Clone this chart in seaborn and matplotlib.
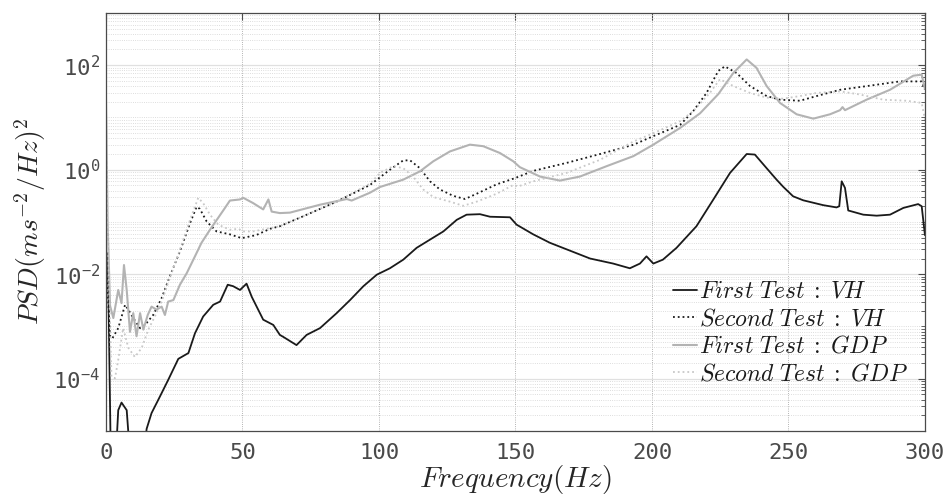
import numpy as np
import pandas as pd
import matplotlib
matplotlib.use("Agg")
import matplotlib.pyplot as plt
import matplotlib.ticker as mticker
import seaborn as sns

# ---------------- data ----------------
vh1_x = [0, 0.7, 1.8, 3.5, 4.5, 5.7, 7.6, 9.0, 13.5, 14.9, 16.7, 19.8, 22.8, 26.5, 30.2,
         32.6, 35.6, 39.3, 41.8, 44.6, 46.6, 49.1, 51.5, 53.4, 55.2, 57.6, 61.3, 63.7, 65.0,
         69.8, 73.5, 78.4, 84.5, 89.4, 94.3, 99.2, 104, 108.9, 113.8, 118.7, 123.6, 128.5,
         132.1, 137, 140.7, 148, 150.4, 156.5, 162.6, 168.7, 177.3, 185.8, 191.9, 195.6, 198,
         200.5, 204, 209, 216.3, 222.5, 228.6, 234.7, 237.7, 242, 245.6, 248.1, 251.7, 255.4,
         262.7, 267.6, 268.6, 269.5, 270.7, 271.9, 277.4, 282.3, 287.2, 292.1, 297.5, 298.8, 300]
vh1_y = [2.7e-2, 2.4e-2, 2.5e-6, 2.5e-6, 2.5e-5, 3.5e-5, 2.5e-5, 2.5e-6, 2.5e-6, 1.1e-5,
         2.2e-5, 4.6e-5, 9.5e-5, 2.4e-4, 3.1e-4, 7.4e-4, 1.55e-3, 2.6e-3, 3.0e-3, 6.3e-3,
         5.9e-3, 5.0e-3, 6.6e-3, 3.7e-3, 2.4e-3, 1.35e-3, 1.07e-3, 6.9e-4, 6.3e-4, 4.4e-4,
         6.9e-4, 9.3e-4, 1.8e-3, 3.2e-3, 5.9e-3, 9.8e-3, 1.3e-2, 1.9e-2, 3.2e-2, 4.6e-2,
         6.6e-2, 0.11, 0.138, 0.141, 0.126, 0.123, 0.089, 0.058, 0.040, 0.030, 0.020, 0.016,
         0.013, 0.016, 0.022, 0.016, 0.019, 0.032, 0.083, 0.27, 0.87, 2.0, 1.95, 1.07, 0.65,
         0.47, 0.31, 0.26, 0.21, 0.19, 0.20, 0.60, 0.45, 0.166, 0.138, 0.132, 0.138, 0.186,
         0.22, 0.20, 0.056]

vh2_x = [0, 1.5, 2.4, 4.5, 7.0, 8.2, 10, 12.5, 14.3, 17.3, 20.4, 23.4, 27.1, 30.8, 33.2,
         34.4, 36.9, 40.5, 45.4, 49.7, 55, 60.1, 63.7, 72.3, 84.5, 96.7, 104, 108.9, 111.4,
         115, 118.7, 122.3, 127.2, 131.5, 135.8, 143.1, 149.8, 156.5, 168.7, 181, 193.2,
         200.5, 210.3, 215.1, 220, 224.3, 226.7, 231, 235.9, 242, 246.9, 254.2, 260.3,
         268.9, 278.6, 290.8, 298.8, 300]
vh2_y = [2e-2, 6.3e-4, 6.0e-4, 9.3e-4, 2.6e-3, 2.1e-3, 1.45e-3, 9.3e-4, 1.07e-3, 1.66e-3,
         3.5e-3, 9.1e-3, 2.75e-2, 9.5e-2, 0.195, 0.178, 0.102, 0.066, 0.058, 0.049, 0.056,
         0.074, 0.083, 0.129, 0.245, 0.51, 1.0, 1.51, 1.51, 1.07, 0.60, 0.42, 0.316, 0.275,
         0.347, 0.525, 0.69, 0.95, 1.35, 2.0, 3.0, 4.4, 7.2, 13.2, 29.5, 78, 95, 71, 40,
         25.7, 21.9, 20.9, 25.7, 33.9, 39.8, 49, 49, 34]

gdp1_x = [0, 0.6, 1.5, 2.7, 4.5, 5.7, 6.6, 7.6, 8.8, 10, 11.2, 12.5, 13.7, 15.3, 16.7, 18.5,
          20.4, 21.6, 22.8, 24.7, 27.1, 29.6, 32.6, 35, 38.1, 41.1, 43.6, 45.4, 49.1, 50.3,
          53.9, 57.6, 59.5, 60.7, 63.7, 67.4, 78.4, 88.2, 90, 96.7, 100.4, 108.9, 115, 119.9,
          126, 133.3, 138.2, 144.3, 149.2, 151.6, 159, 166.3, 173.6, 183.4, 193.2, 200.5,
          210.3, 217.6, 224.3, 229.8, 234.7, 238.3, 242, 246.9, 253, 259.1, 265.2, 268.9,
          269.8, 270.7, 278.6, 287.2, 295.7, 298.8, 300]
gdp1_y = [25, 0.1, 2.5e-3, 1.45e-3, 5.0e-3, 2.8e-3, 1.5e-2, 5.0e-3, 7.9e-4, 1.8e-3, 6.5e-4,
          1.8e-3, 8.7e-4, 1.66e-3, 2.4e-3, 2.1e-3, 2.4e-3, 1.66e-3, 3.0e-3, 3.2e-3, 6.3e-3,
          1.05e-2, 2.2e-2, 4.0e-2, 7.1e-2, 0.12, 0.186, 0.257, 0.27, 0.29, 0.23, 0.174, 0.27,
          0.158, 0.148, 0.151, 0.214, 0.275, 0.257, 0.363, 0.468, 0.646, 0.93, 1.45, 2.24,
          3.02, 2.82, 2.09, 1.45, 1.12, 0.74, 0.62, 0.74, 1.17, 1.82, 3.02, 6.3, 12, 28, 71,
          129, 89, 40, 19, 11.5, 9.5, 11.5, 13.8, 15.8, 13.8, 21.9, 33.9, 63, 66, 35]

gdp2_x = [0, 0.8, 2.0, 3.3, 4.5, 6.3, 8.2, 10.6, 13.1, 15.5, 17.9, 20.4, 23.4, 27.1, 30.8,
          33.8, 35.6, 38.1, 41.1, 45.4, 48.5, 50.3, 53.9, 63.7, 72.3, 84.5, 96.7, 100.4, 105.2,
          108.9, 112.5, 116.2, 119.9, 126, 130.9, 135.8, 143.1, 149.2, 151, 156.5, 168.7, 181,
          193.2, 200.5, 210.3, 215.1, 221.2, 224.9, 229.8, 235.9, 242, 248.1, 254.2, 260.3,
          268.9, 276.2, 284.7, 293.3, 298.8, 300]
gdp2_y = [16, 0.03, 1.1e-4, 1.02e-4, 2.3e-4, 9.3e-4, 3.9e-4, 2.6e-4, 3.9e-4, 8.7e-4, 1.55e-3,
          3.0e-3, 8.5e-3, 2.95e-2, 0.11, 0.29, 0.23, 0.138, 0.089, 0.071, 0.074, 0.066, 0.066,
          0.083, 0.129, 0.245, 0.54, 0.87, 1.17, 1.07, 0.74, 0.42, 0.30, 0.245, 0.204, 0.245,
          0.347, 0.51, 0.48, 0.60, 0.87, 1.55, 3.47, 5.0, 8.5, 13.2, 29.5, 54, 40, 29.5, 24,
          22.9, 25.7, 29.5, 31.6, 27.5, 21.9, 20.9, 19, 9.1]

labels = [r"$First\ Test\;:\;VH$", r"$Second\ Test\;:\;VH$",
          r"$First\ Test\;:\;GDP$", r"$Second\ Test\;:\;GDP$"]
x_ticks = [0, 50, 100, 150, 200, 250, 300]
y_ticks = [1e-4, 1e-2, 1e0, 1e2]

# ---------------- style ----------------
sns.set_theme(style="white")
plt.rcParams["font.family"] = ["DejaVu Sans Mono", "DejaVu Sans"]
plt.rcParams["mathtext.fontset"] = "cm"

fig = plt.figure(figsize=(9.52, 4.99), dpi=100)
ax = fig.add_axes([0.1113, 0.1363, 0.8603, 0.8377])

series = [
    (vh1_x, vh1_y, "#1a1a1a", "-", 1.3),
    (vh2_x, vh2_y, "#1a1a1a", ":", 1.3),
    (gdp1_x, gdp1_y, "#b3b3b3", "-", 1.5),
    (gdp2_x, gdp2_y, "#c8c8c8", ":", 1.3),
]
for (xs, ys, col, ls, lw), lab in zip(series, labels):
    df = pd.DataFrame({"f": xs, "psd": ys})
    sns.lineplot(data=df, x="f", y="psd", ax=ax, color=col, linestyle=ls,
                 linewidth=lw, label=lab, estimator=None, sort=False)

ax.set_yscale("log")
ax.set_xlim(0, 300)
ax.set_ylim(1e-5, 1e3)
ax.set_xticks(x_ticks)
ax.yaxis.set_major_locator(mticker.FixedLocator(y_ticks))
ax.yaxis.set_minor_locator(mticker.LogLocator(base=10, subs=np.arange(1, 10), numticks=20))
ax.yaxis.set_minor_formatter(mticker.NullFormatter())

# grid
ax.grid(False)
ax.xaxis.grid(True, which="major", color="#9a9a9a", linestyle=":", linewidth=0.6)
ax.yaxis.grid(True, which="major", color="#e0e0e0", linestyle="-", linewidth=0.9)
ax.yaxis.grid(True, which="minor", color="#d2d2d2", linestyle=":", linewidth=0.6)
ax.set_axisbelow(True)

ax.tick_params(which="both", direction="in", top=True, right=True, colors="#4a4a4a",
               labelcolor="#4a4a4a", labelsize=16)
ax.tick_params(which="major", length=5, width=0.8)
ax.tick_params(which="minor", length=3, width=0.6)
ax.tick_params(axis="x", pad=9)
ax.tick_params(axis="y", pad=4)
for sp in ax.spines.values():
    sp.set_color("#4a4a4a")
    sp.set_linewidth(0.9)

ax.set_xlabel(r"$Frequency(Hz)$", fontsize=21, color="#262626", labelpad=0)
ax.set_ylabel(r"$PSD(ms^{-2}/Hz)^2$", fontsize=20, color="#262626", labelpad=4)

leg = ax.legend(loc="lower right", bbox_to_anchor=(0.997, 0.075), frameon=False,
                fontsize=17, handlelength=1.0, handletextpad=0.1, labelspacing=0.15,
                borderaxespad=0.2)
for t in leg.get_texts():
    t.set_color("#1a1a1a")

fig.savefig("out.png", dpi=100)
